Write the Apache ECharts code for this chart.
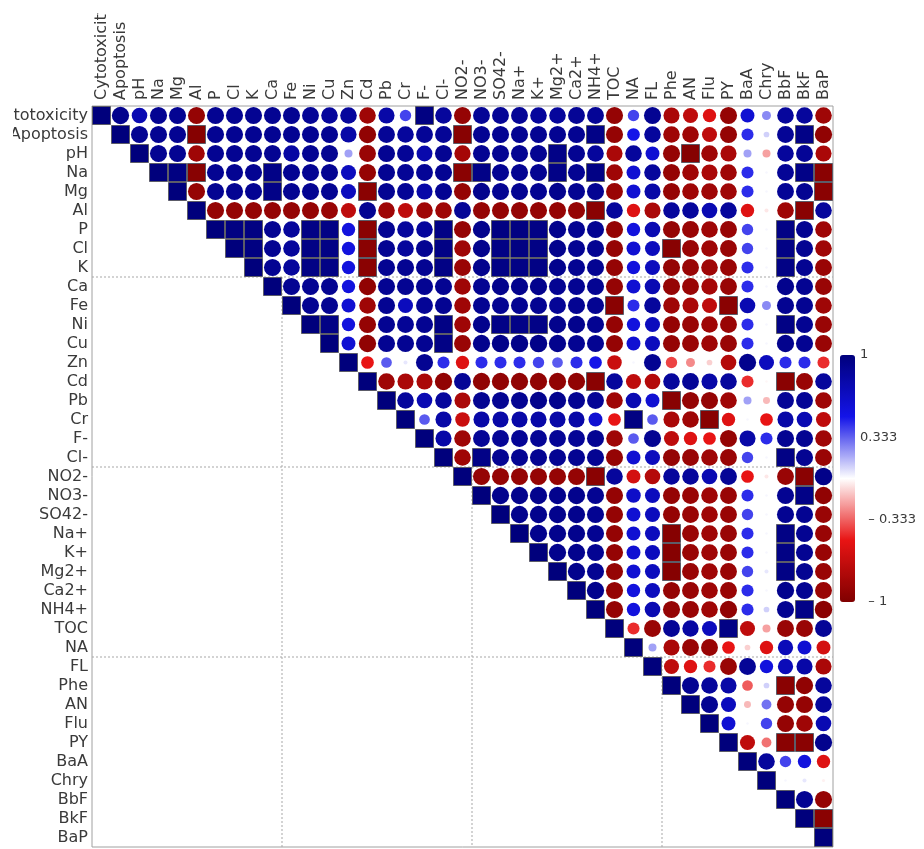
<!DOCTYPE html>
<html>
<head>
<meta charset="utf-8">
<script src="https://cdn.jsdelivr.net/npm/echarts@6/dist/echarts.min.js"></script>
<style>
  html, body { margin: 0; padding: 0; background: #ffffff; }
  #chart { width: 924px; height: 849px; }
</style>
</head>
<body>
<div id="chart"></div>
<script>
// Variables in matrix order (rows top to bottom, columns left to right)
const variables = ['Cytotoxicity','Apoptosis','pH','Na','Mg','Al','P','Cl','K','Ca','Fe','Ni','Cu','Zn','Cd','Pb','Cr','F-','Cl-','NO2-','NO3-','SO42-','Na+','K+','Mg2+','Ca2+','NH4+','TOC','NA','FL','Phe','AN','Flu','PY','BaA','Chry','BbF','BkF','BaP'];

// Upper triangle of the correlation matrix: row i holds r(i, j) for j = i+1 .. last
const upperTriangle = [
  [0.92,0.75,0.9,0.9,-0.9,0.9,0.9,0.9,0.9,0.9,0.88,0.85,0.85,-0.85,0.8,0.4,0.97,0.85,-0.9,0.88,0.88,0.88,0.85,0.85,0.88,0.88,-0.9,0.4,0.9,-0.8,-0.7,-0.55,-0.9,0.6,0.25,0.85,0.85,-0.85],
  [0.9,0.9,0.9,-0.97,0.9,0.9,0.9,0.9,0.9,0.9,0.9,0.8,-0.92,0.88,0.85,0.88,0.88,-0.96,0.9,0.9,0.9,0.9,0.9,0.9,0.95,-0.9,0.5,0.85,-0.85,-0.85,-0.7,-0.9,0.45,0.1,0.88,0.95,-0.92],
  [0.9,0.9,-0.85,0.9,0.9,0.9,0.9,0.82,0.9,0.9,0.2,-0.88,0.9,0.88,0.78,0.9,-0.82,0.9,0.9,0.9,0.9,0.95,0.9,0.85,-0.8,0.85,0.6,-0.9,-0.97,-0.85,-0.8,0.2,-0.2,0.85,0.88,-0.8],
  [0.97,-0.96,0.9,0.9,0.9,0.95,0.9,0.9,0.9,0.7,-0.9,0.9,0.88,0.88,0.9,-0.95,0.95,0.9,0.9,0.9,0.95,0.9,0.96,-0.85,0.6,0.85,-0.9,-0.85,-0.8,-0.85,0.45,0.02,0.88,0.95,-0.95],
  [-0.9,0.9,0.9,0.9,0.95,0.9,0.9,0.9,0.7,-0.95,0.9,0.88,0.8,0.9,-0.9,0.92,0.9,0.9,0.9,0.92,0.9,0.9,-0.88,0.6,0.8,-0.9,-0.85,-0.85,-0.85,0.45,0.02,0.88,0.9,-0.95],
  [-0.9,-0.9,-0.9,-0.9,-0.9,-0.9,-0.88,-0.7,0.9,-0.85,-0.7,-0.85,-0.85,0.88,-0.9,-0.9,-0.9,-0.9,-0.9,-0.9,-0.95,0.85,-0.55,-0.8,0.85,0.85,0.75,0.85,-0.55,-0.05,-0.85,-0.95,0.85],
  [0.97,0.97,0.9,0.85,0.96,0.96,0.55,-0.95,0.9,0.85,0.85,0.96,-0.9,0.92,0.97,0.97,0.96,0.92,0.9,0.9,-0.9,0.55,0.75,-0.9,-0.88,-0.85,-0.88,0.4,0.02,0.96,0.9,-0.85],
  [0.97,0.9,0.85,0.96,0.96,0.55,-0.95,0.9,0.85,0.9,0.96,-0.85,0.92,0.96,0.97,0.96,0.92,0.9,0.9,-0.9,0.6,0.7,-0.96,-0.88,-0.85,-0.88,0.4,0.02,0.96,0.9,-0.85],
  [0.9,0.85,0.96,0.96,0.55,-0.95,0.9,0.9,0.9,0.96,-0.88,0.92,0.96,0.96,0.96,0.92,0.9,0.9,-0.9,0.55,0.7,-0.9,-0.88,-0.85,-0.88,0.45,0.02,0.96,0.9,-0.88],
  [0.9,0.9,0.9,0.55,-0.92,0.9,0.9,0.9,0.9,-0.85,0.9,0.92,0.92,0.92,0.9,0.9,0.9,-0.9,0.6,0.75,-0.9,-0.88,-0.82,-0.88,0.45,0.02,0.92,0.9,-0.88],
  [0.9,0.9,0.6,-0.85,0.9,0.7,0.88,0.9,-0.85,0.9,0.9,0.9,0.9,0.88,0.9,0.9,-0.95,0.45,0.85,-0.85,-0.8,-0.7,-0.95,0.75,0.25,0.9,0.9,-0.85],
  [0.96,0.55,-0.9,0.9,0.88,0.9,0.96,-0.85,0.92,0.95,0.95,0.95,0.92,0.92,0.9,-0.9,0.55,0.7,-0.9,-0.88,-0.85,-0.88,0.45,0.02,0.96,0.9,-0.88],
  [0.6,-0.92,0.9,0.9,0.9,0.96,-0.88,0.92,0.94,0.94,0.94,0.92,0.9,0.9,-0.9,0.6,0.7,-0.9,-0.88,-0.85,-0.88,0.45,0.02,0.92,0.9,-0.88],
  [-0.5,0.35,0.05,0.9,0.45,-0.55,0.45,0.45,0.45,0.4,0.35,0.45,0.5,-0.65,0.02,0.9,-0.4,-0.25,-0.1,-0.75,0.92,0.7,0.45,0.45,-0.45],
  [-0.85,-0.8,-0.8,-0.92,0.88,-0.92,-0.92,-0.92,-0.92,-0.92,-0.92,-0.95,0.85,-0.7,-0.75,0.85,0.88,0.8,0.85,-0.45,-0.02,-0.95,-0.88,0.85],
  [0.85,0.75,0.85,-0.8,0.9,0.9,0.9,0.92,0.92,0.9,0.88,-0.85,0.75,0.6,-0.96,-0.9,-0.9,-0.85,0.2,-0.15,0.88,0.88,-0.85],
  [0.35,0.8,-0.65,0.8,0.8,0.8,0.8,0.8,0.8,0.6,-0.5,0.97,0.35,-0.8,-0.85,-0.96,-0.55,0.02,-0.5,0.8,0.75,-0.7],
  [0.8,-0.85,0.88,0.88,0.88,0.88,0.88,0.88,0.9,-0.85,0.35,0.9,-0.7,-0.55,-0.5,-0.9,0.8,0.45,0.9,0.9,-0.85],
  [-0.85,0.95,0.9,0.9,0.9,0.9,0.9,0.9,-0.9,0.6,0.7,-0.9,-0.88,-0.85,-0.88,0.4,0.02,0.96,0.9,-0.88],
  [-0.9,-0.9,-0.9,-0.9,-0.9,-0.9,-0.95,0.85,-0.6,-0.75,0.85,0.85,0.75,0.88,-0.5,-0.05,-0.88,-0.95,0.94],
  [0.92,0.92,0.92,0.92,0.92,0.9,-0.9,0.65,0.7,-0.9,-0.88,-0.85,-0.88,0.45,0.02,0.9,0.95,-0.92],
  [0.92,0.92,0.92,0.92,0.9,-0.9,0.6,0.7,-0.9,-0.88,-0.85,-0.88,0.4,0.02,0.9,0.9,-0.88],
  [0.92,0.92,0.92,0.9,-0.9,0.6,0.7,-0.97,-0.88,-0.85,-0.88,0.45,0.02,0.96,0.9,-0.88],
  [0.92,0.92,0.9,-0.9,0.6,0.7,-0.97,-0.88,-0.85,-0.88,0.45,0.02,0.96,0.9,-0.88],
  [0.92,0.9,-0.9,0.6,0.7,-0.97,-0.88,-0.85,-0.88,0.4,0.05,0.96,0.9,-0.88],
  [0.92,-0.9,0.55,0.7,-0.9,-0.88,-0.85,-0.88,0.45,0.02,0.92,0.9,-0.88],
  [-0.9,0.55,0.75,-0.9,-0.88,-0.85,-0.92,0.45,0.1,0.9,0.95,-0.94],
  [-0.45,-0.88,0.88,0.82,0.7,0.96,-0.7,-0.2,-0.88,-0.88,0.88],
  [0.2,-0.8,-0.88,-0.88,-0.5,-0.1,-0.55,0.72,0.6,-0.6],
  [-0.7,-0.55,-0.45,-0.88,0.88,0.55,0.72,0.8,-0.8],
  [0.9,0.85,0.8,-0.35,0.1,-0.95,-0.92,0.85],
  [0.9,0.7,-0.15,0.3,-0.9,-0.9,0.85],
  [0.6,0.02,0.4,-0.9,-0.85,0.75],
  [-0.7,-0.3,-0.95,-0.95,0.92],
  [0.85,0.4,0.55,-0.55],
  [0.02,0.05,-0.03],
  [0.9,-0.9],
  [-0.95],
  []
];

// Colour bar tick labels, bottom to top
const colorbarLabels = ['– 1', '– 0.333', '0.333', '1'];

// Block separators: row boundary and the matching column boundary
const rowBreaks = [9, 19, 29];
const colBreaks = [10, 20, 30];

// Cells: diagonal plus upper triangle, as [column, row, r]
const cells = [];
variables.forEach((rowName, i) => {
  cells.push([rowName, rowName, 1]);
  upperTriangle[i].forEach((r, k) => {
    cells.push([variables[i + 1 + k], rowName, r]);
  });
});

const SQUARE_CUT = 0.95;
const cellData = cells.map(c => {
  const strong = Math.abs(c[2]) >= SQUARE_CUT;
  return strong
    ? { value: c, itemStyle: { borderColor: '#5c5c68', borderWidth: 1 } }
    : { value: c };
});

const breakData = rowBreaks.map((b, k) => [colBreaks[k], b]);

const labelFont = 'DejaVu Sans';
const labelColor = '#3a3a3a';

const chart = echarts.init(document.getElementById('chart'));
chart.setOption({
  backgroundColor: '#ffffff',
  animation: false,
  grid: [
    { left: 92, top: 106, width: 741, height: 741, outerBoundsMode: 'none', containLabel: false,
      show: true, borderColor: '#a0a0a0', borderWidth: 1, backgroundColor: 'transparent' },
    { left: 840, top: 355, width: 15, height: 247, outerBoundsMode: 'none', containLabel: false, show: false }
  ],
  xAxis: [
    {
      type: 'category', data: variables, position: 'top', gridIndex: 0,
      axisLine: { show: false }, axisTick: { show: false }, splitLine: { show: false },
      axisLabel: { rotate: -90, interval: 0, margin: 6, fontSize: 16, fontFamily: labelFont, color: labelColor }
    },
    { type: 'value', gridIndex: 1, show: false, min: 0, max: 1 }
  ],
  yAxis: [
    {
      type: 'category', data: variables, inverse: true, gridIndex: 0,
      axisLine: { show: false }, axisTick: { show: false }, splitLine: { show: false },
      axisLabel: { interval: 0, margin: 4, fontSize: 16, fontFamily: labelFont, color: labelColor }
    },
    {
      type: 'value', gridIndex: 1, position: 'right', min: 0, max: 3, interval: 1,
      axisLine: { show: false }, axisTick: { show: false }, splitLine: { show: false },
      axisLabel: {
        margin: 5, fontSize: 13, fontFamily: labelFont, color: labelColor,
        formatter: v => {
          const t = colorbarLabels[Math.round(v)];
          return t.startsWith('–') ? '  ' + t : t;
        }
      }
    }
  ],
  visualMap: {
    type: 'continuous', min: -1, max: 1, dimension: 2, seriesIndex: 1,
    calculable: false, left: 840, top: 355, itemWidth: 15, itemHeight: 247,
    padding: 0, text: null, showLabel: false,
    inRange: { color: ['#800000', '#e81414', '#ffffff', '#1414e8', '#00007c'] }
  },
  // label margins of the plot frame
  graphic: [
    { type: 'rect', left: 0, top: 98, z: 100, shape: { width: 13, height: 751 }, style: { fill: '#ffffff' }, silent: true },
    { type: 'rect', left: 88, top: 0, z: 100, shape: { width: 760, height: 13 }, style: { fill: '#ffffff' }, silent: true }
  ],
  series: [
    {
      type: 'custom', xAxisIndex: 0, yAxisIndex: 0, z: 1, silent: true,
      data: breakData,
      encode: { x: 0, y: 1 },
      renderItem: (params, api) => {
        const cb = api.value(0), rb = api.value(1);
        const s = api.size([1, 1]);
        const left = api.coord([0, 0])[0] - s[0] / 2;
        const right = api.coord([variables.length - 1, 0])[0] + s[0] / 2;
        const bottom = api.coord([0, variables.length - 1])[1] + s[1] / 2;
        const y = api.coord([0, rb])[1] - s[1] / 2;
        const x = api.coord([cb, 0])[0] - s[0] / 2;
        const style = { stroke: '#a8a8a8', lineWidth: 1, lineDash: [2, 2] };
        return {
          type: 'group',
          children: [
            { type: 'line', shape: { x1: left, y1: y, x2: right, y2: y }, style },
            { type: 'line', shape: { x1: x, y1: y, x2: x, y2: bottom }, style }
          ]
        };
      }
    },
    {
      type: 'scatter', xAxisIndex: 0, yAxisIndex: 0, z: 3,
      data: cellData,
      itemStyle: { opacity: 1 },
      symbol: v => (Math.abs(v[2]) >= SQUARE_CUT ? 'rect' : 'circle'),
      symbolSize: v => {
        const a = Math.abs(v[2]);
        return a >= SQUARE_CUT ? 18 : 18 * Math.sqrt(a);
      }
    }
  ]
});
</script>
</body>
</html>
